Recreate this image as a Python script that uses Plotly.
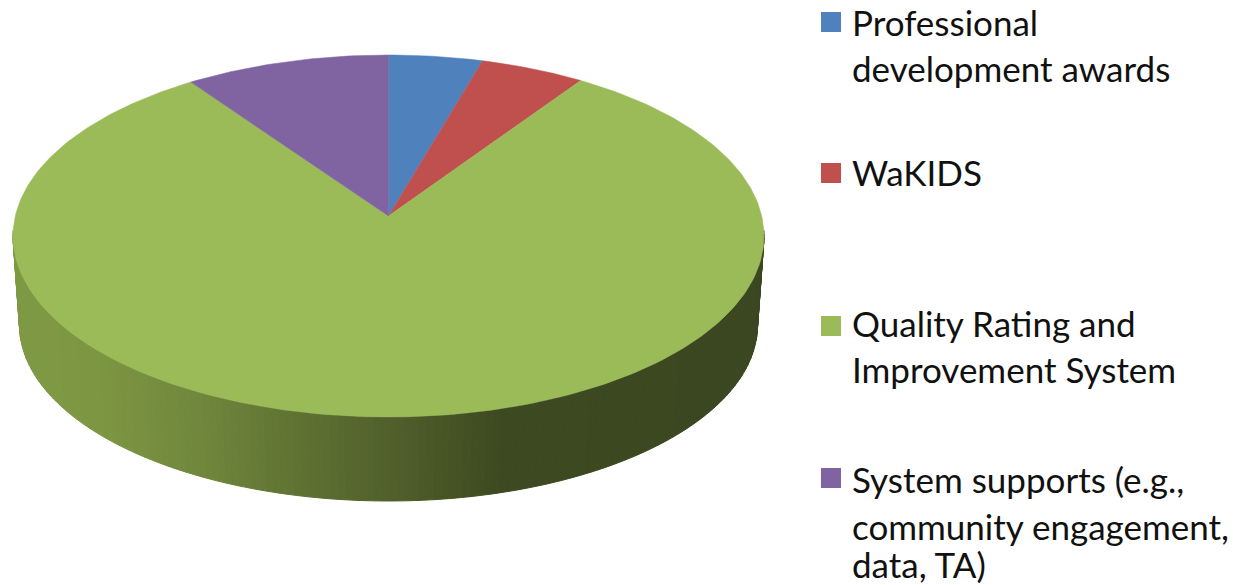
import numpy as np
import plotly.graph_objects as go

# ---- data ----
categories = ["Professional development awards", "WaKIDS",
              "Quality Rating and Improvement System",
              "System supports (e.g., community engagement, data, TA)"]
values = [4.5, 5.0, 80.7, 9.8]
colors = ["#4F81BD", "#C0504D", "#9BBB59", "#8064A2"]
legend_lines = [["Professional", "development awards"], ["WaKIDS"],
                ["Quality Rating and", "Improvement System"],
                ["System supports (e.g.,", "community engagement,", "data, TA)"]]
side_stop_x = [13, 100, 200, 300, 400, 500, 764]
side_stop_rgb = [(127, 154, 69), (125, 150, 66), (112, 135, 60), (95, 114, 50),
                 (79, 94, 43), (62, 74, 32), (59, 71, 32)]

# ---- drawing geometry (page pixels) ----
W, H = 1234, 585
CX, TOP_CY, RX, RY = 388.5, 236.0, 375.5, 181.0
APEX_LIFT = 20.0
BOT_CY, BOT_RX, BOT_RY = 325.0, 369.0, 176.0
LEG_MARK_X, LEG_TEXT_X, LEG_SIZE = 831, 850, 20
LEG_MARK_Y = [22, 173, 326, 478]
LEG_LINE_Y = [[22, 68], [172], [323, 369], [479, 526, 564]]
FONT = "Lato"
FONT_SIZE = 35

k = APEX_LIFT / RY
A = RX * np.sqrt(1 - k * k)


def rim(theta):
    """Perspective projection of the pie's rim, angle clockwise from the back."""
    u, v = np.sin(theta), np.cos(theta)
    d = 1 + k * v
    return CX + A * u / d, TOP_CY - (RY * v + APEX_LIFT) / d


fig = go.Figure()

# side wall, shaded across its width
n = 160
ts = np.linspace(np.pi / 2 - 0.03, 3 * np.pi / 2 + 0.03, n + 1)
for t0, t1 in zip(ts[:-1], ts[1:]):
    s = np.array([t0, t1])
    xt = CX + RX * np.sin(s)
    yt = TOP_CY - RY * np.cos(s)
    xb = CX + BOT_RX * np.sin(s)
    yb = BOT_CY - BOT_RY * np.cos(s)
    mid = xt.mean()
    rgb = [np.interp(mid, side_stop_x, [c[i] for c in side_stop_rgb]) for i in range(3)]
    col = "rgb(%d,%d,%d)" % tuple(rgb)
    fig.add_trace(go.Scatter(
        x=[xt[0], xt[1], xb[1], xb[0], xt[0]], y=[yt[0], yt[1], yb[1], yb[0], yt[0]],
        mode="lines", fill="toself", fillcolor=col, line=dict(color=col, width=1),
        hoverinfo="skip", showlegend=False))

# top face, one slice per value
fracs = np.cumsum([0] + values) / sum(values) * 2 * np.pi
for name, c, a0, a1 in zip(categories, colors, fracs[:-1], fracs[1:]):
    th = np.linspace(a0, a1, max(int((a1 - a0) * 60), 8))
    x, y = rim(th)
    ax, ay = CX, TOP_CY - APEX_LIFT
    fig.add_trace(go.Scatter(
        x=[ax, *x, ax], y=[ay, *y, ay], mode="lines", fill="toself", fillcolor=c,
        line=dict(color=c, width=0.5), name=name, hoverinfo="name", showlegend=False))

# legend keys
fig.add_trace(go.Scatter(
    x=[LEG_MARK_X] * 4, y=LEG_MARK_Y, mode="markers",
    marker=dict(symbol="square", size=LEG_SIZE, color=colors, line=dict(width=0)),
    hovertext=categories, hoverinfo="text", showlegend=False))

annotations = []
for lines, ys in zip(legend_lines, LEG_LINE_Y):
    for line, y in zip(lines, ys):
        annotations.append(dict(x=LEG_TEXT_X, y=y, text=line, xref="x", yref="y",
                                xanchor="left", yanchor="middle", showarrow=False,
                                font=dict(family=FONT, size=FONT_SIZE, color="#111111")))

fig.update_layout(
    width=W, height=H, margin=dict(l=0, r=0, t=0, b=0),
    paper_bgcolor="white", plot_bgcolor="white", showlegend=False,
    xaxis=dict(range=[0, W], visible=False, fixedrange=True),
    yaxis=dict(range=[H, 0], visible=False, fixedrange=True),
    annotations=annotations)

fig.write_html("out.html", config={"displayModeBar": False},
               post_script="document.body.style.margin='0';document.body.style.overflow='hidden';")
